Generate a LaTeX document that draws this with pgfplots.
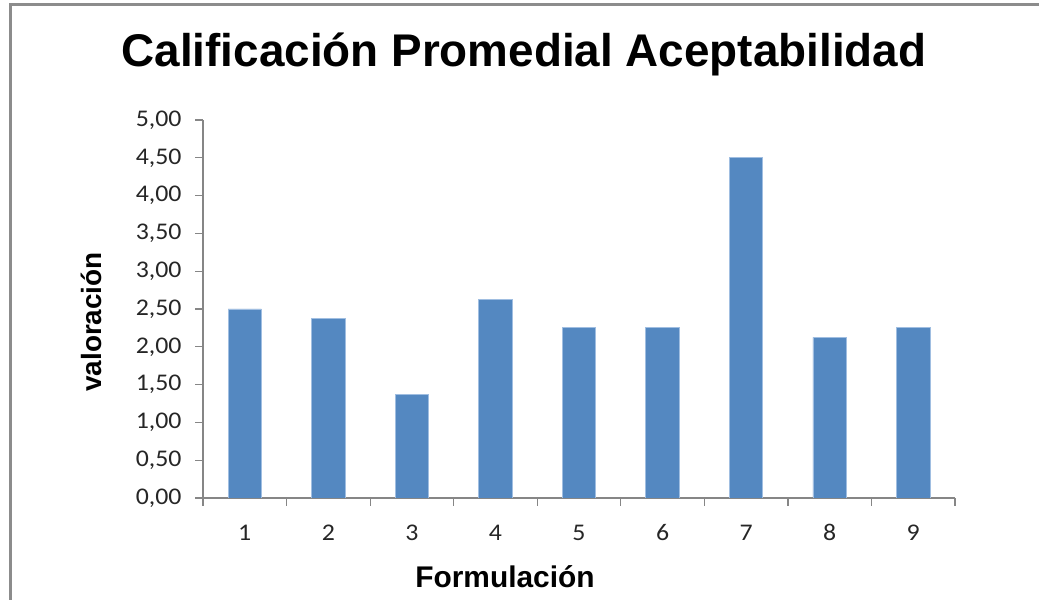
\documentclass[border=0pt]{standalone}
\usepackage{fontspec}
\setmainfont{Liberation Sans}
\newfontfamily\tickfont[FakeStretch=1.08]{Carlito}
\usepackage{pgfplots}
\pgfplotsset{compat=1.18}

\definecolor{barblue}{RGB}{84,136,193}
\definecolor{baredge}{RGB}{160,190,225}
\definecolor{axisgray}{RGB}{134,134,134}
\definecolor{framegray}{RGB}{140,140,140}

\begin{document}
\begin{tikzpicture}[x=1bp,y=1bp]
\useasboundingbox (0,0) rectangle (1039,600);
% frame of the chart area (cropped at bottom and right)
\draw[framegray, line width=3bp] (10,-5) -- (10,595) -- (1045,595);

\begin{axis}[
  at={(203bp,102bp)}, anchor=south west,
  scale only axis, width=752bp, height=378bp,
  xmin=0.5, xmax=9.5, ymin=0, ymax=5,
  axis x line*=bottom, axis y line*=left,
  axis line style={axisgray, line width=1.2bp},
  xtick={1,...,9},
  minor xtick={0.5,1.5,...,9.5},
  ytick={0,0.5,...,5},
  tick align=outside,
  major x tick style={draw=none},
  minor x tick style={axisgray, line width=1.2bp},
  y tick style={axisgray, line width=1.2bp},
  minor tick length=8bp, major tick length=8bp,
  tick label style={font=\tickfont\fontsize{24}{27}\selectfont, text=black!85},
  xticklabel style={yshift=-16bp, text height=15bp, text depth=0pt},
  yticklabel style={xshift=-10bp},
  /pgf/number format/assume math mode=true,
  y tick label style={/pgf/number format/.cd, use comma, fixed, fixed zerofill, precision=2},
  x tick label style={/pgf/number format/.cd, fixed, precision=0},
]
\addplot[ybar, bar width=33.4bp, fill=barblue, draw=baredge, line width=0.8bp]
  coordinates {
  (1,2.500)
  (2,2.375)
  (3,1.375)
  (4,2.625)
  (5,2.250)
  (6,2.250)
  (7,4.500)
  (8,2.125)
  (9,2.250)
};
\end{axis}

\node[font=\bfseries\fontsize{46}{52}\selectfont] at (524,546) {Calificación Promedial Aceptabilidad};
\node[font=\bfseries\fontsize{28}{32}\selectfont, rotate=90] at (91,278) {valoración};
\node[font=\bfseries\fontsize{30}{34}\selectfont] at (505,23) {Formulación};
\end{tikzpicture}
\end{document}
